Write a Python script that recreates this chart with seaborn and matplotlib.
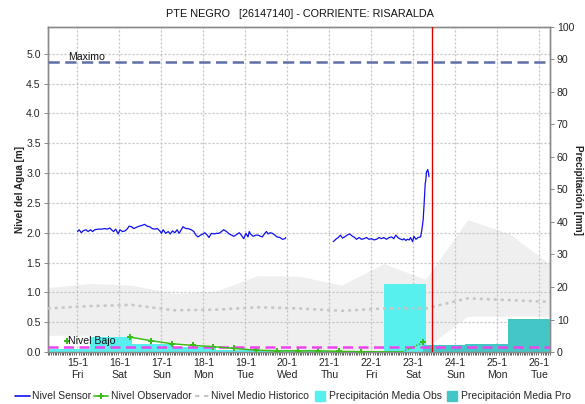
import matplotlib
matplotlib.use("Agg")
import matplotlib.pyplot as plt
from matplotlib.lines import Line2D
from matplotlib.ticker import MultipleLocator, FormatStrFormatter
import seaborn as sns
import pandas as pd

sns.set_theme(style="white")
plt.rcParams["font.family"] = ["Liberation Sans", "DejaVu Sans"]

# ---------------- data (x in days counted from 15-1 00:00) ----------------
tick_days = list(range(12))
tick_labels = ["15-1\nFri", "16-1\nSat", "17-1\nSun", "18-1\nMon", "19-1\nTue", "20-1\nWed",
               "21-1\nThu", "22-1\nFri", "23-1\nSat", "24-1\nSun", "25-1\nMon", "26-1\nTue"]
x_range = (-0.71, 11.25)
now_day = 8.43

nivel_maximo = 4.87
nivel_bajo = 0.08

# water level sensor, two stretches separated by a gap in transmission
sensor_days_a = [0.00, 0.04, 0.09, 0.13, 0.20, 0.25, 0.31, 0.36, 0.41, 0.49, 0.57, 0.65, 0.71, 0.77,
                 0.81, 0.86, 0.91, 0.97, 1.01, 1.07, 1.13, 1.18, 1.23, 1.29, 1.34, 1.40, 1.47, 1.52,
                 1.60, 1.66, 1.72, 1.78, 1.84, 1.90, 1.96, 2.00, 2.04, 2.10, 2.16, 2.21, 2.26, 2.32,
                 2.37, 2.42, 2.48, 2.51, 2.58, 2.63, 2.71, 2.77, 2.82, 2.87, 2.93, 2.99, 3.03, 3.09,
                 3.13, 3.19, 3.25, 3.31, 3.37, 3.43, 3.48, 3.55, 3.61, 3.67, 3.72, 3.79, 3.85, 3.90,
                 3.96, 4.01, 4.06, 4.09, 4.12, 4.18, 4.25, 4.30, 4.36, 4.40, 4.46, 4.50, 4.54, 4.59,
                 4.64, 4.70, 4.75, 4.82, 4.88, 4.94, 4.96]
sensor_vals_a = [2.02, 2.05, 2.00, 2.03, 2.05, 2.02, 2.05, 2.02, 2.05, 2.06, 2.06, 2.07, 2.06, 2.08,
                 2.05, 2.02, 2.06, 1.98, 2.05, 2.02, 2.03, 2.06, 2.11, 2.10, 2.07, 2.09, 2.11, 2.12,
                 2.14, 2.11, 2.10, 2.07, 2.06, 2.07, 2.03, 1.99, 2.05, 1.99, 2.02, 1.98, 2.03, 2.00,
                 2.05, 1.99, 2.06, 2.10, 2.07, 2.07, 2.05, 2.02, 1.96, 1.93, 1.96, 1.98, 2.00, 1.96,
                 1.92, 1.99, 1.98, 1.99, 1.99, 2.02, 2.05, 2.02, 1.98, 1.96, 1.94, 1.97, 2.00, 1.96,
                 1.90, 1.99, 1.93, 2.02, 1.98, 1.94, 1.96, 1.96, 1.94, 1.93, 1.99, 2.02, 1.98, 2.00,
                 1.99, 1.96, 1.93, 1.92, 1.89, 1.90, 1.92]
sensor_days_b = [6.09, 6.15, 6.21, 6.26, 6.31, 6.36, 6.42, 6.48, 6.55, 6.60, 6.64, 6.71, 6.76, 6.82,
                 6.88, 6.94, 7.00, 7.06, 7.12, 7.18, 7.24, 7.29, 7.36, 7.42, 7.48, 7.53, 7.58, 7.63,
                 7.67, 7.74, 7.77, 7.82, 7.85, 7.90, 7.93, 7.98, 8.01, 8.06, 8.11, 8.17, 8.20, 8.23,
                 8.25, 8.28, 8.29, 8.31, 8.34, 8.36, 8.37]
sensor_vals_b = [1.85, 1.89, 1.92, 1.96, 1.91, 1.93, 1.96, 1.98, 1.94, 1.92, 1.89, 1.92, 1.89, 1.90,
                 1.92, 1.89, 1.90, 1.88, 1.89, 1.92, 1.90, 1.92, 1.89, 1.92, 1.93, 1.90, 1.96, 1.92,
                 1.90, 1.88, 1.90, 1.87, 1.89, 1.88, 1.92, 1.85, 1.94, 1.89, 1.92, 1.93, 2.05, 2.21,
                 2.44, 2.83, 2.86, 3.02, 3.06, 2.99, 2.94]

# staff gauge readings by the observer
obs_days = [-0.26, 1.25, 1.75, 2.24, 2.75, 3.23, 3.73, 4.25, 4.74, 5.24, 5.73, 6.23, 6.74, 7.73, 8.23]
obs_vals = [0.19, 0.25, 0.19, 0.14, 0.11, 0.09, 0.06, 0.03, 0.02, 0.02, 0.02, 0.01, 0.005, 0.0, 0.16]
obs_marked = [True] * 13 + [False, True]

# historical envelope and mean level
hist_days = [-0.71, 0.29, 1.29, 2.29, 3.29, 4.29, 5.29, 6.29, 7.29, 8.29, 9.29, 10.29, 11.29]
hist_upper = [1.08, 1.15, 1.12, 0.98, 1.02, 1.28, 1.27, 1.12, 1.48, 1.22, 2.22, 1.98, 1.45]
hist_lower = [0.28, 0.28, 0.25, 0.17, 0.10, 0.03, 0.02, 0.02, 0.02, 0.07, 0.60, 0.60, 0.60]
hist_mean = [0.73, 0.77, 0.79, 0.70, 0.71, 0.75, 0.73, 0.69, 0.73, 0.73, 0.90, 0.87, 0.84]

# daily rainfall, observed (07:00-07:00) and forecast
rain_obs_edges = [-0.71, 0.29, 1.29, 2.29, 3.29, 4.29, 5.29, 6.29, 7.29, 8.29]
rain_obs_mm = [0.8, 4.5, 2.4, 1.6, 0.6, 0.3, 0.3, 0.0, 20.8]
rain_pro_edges = [8.23, 9.23, 10.24, 11.30]
rain_pro_mm = [2.3, 2.6, 10.1]

# ---------------- styling ----------------
c_sensor = "#1010F0"
c_obs = "#3DBB1A"
c_mean = "#C6C6C6"
c_band = "#EFEFEF"
c_rain_obs = "#58EFEF"
c_rain_pro = "#45C6C6"
c_max = "#5F6FA8"
c_bajo = "#EE44EE"
c_now = "#DD0000"
c_spine = "#8A8A8A"
fs = 7.6

fig = plt.figure(figsize=(5.85, 4.04), dpi=100)
pos = [0.0815, 0.1287, 0.8586, 0.8045]

ax = fig.add_axes(pos)              # level axis: envelope + grid
ax_rain = ax.twinx()                # rainfall bars
ax_top = fig.add_axes(pos, sharex=ax, sharey=ax)   # level lines above the bars
ax.set_zorder(0)
ax_rain.set_zorder(1)
ax_top.set_zorder(2)
ax_rain.patch.set_visible(False)
ax_top.patch.set_visible(False)
ax_top.axis("off")

# historical envelope
ax.fill_between(hist_days, hist_lower, hist_upper, color=c_band, lw=0, zorder=0.2)
ax.set_axisbelow(True)
ax.grid(True, color="#C2C2C2", linestyle=(0, (1.6, 1.6)), lw=0.9)

# rainfall bars
for lo, hi, v in zip(rain_obs_edges[:-1], rain_obs_edges[1:], rain_obs_mm):
    ax_rain.bar(lo, v, width=hi - lo, align="edge", color=c_rain_obs, lw=0)
for lo, hi, v in zip(rain_pro_edges[:-1], rain_pro_edges[1:], rain_pro_mm):
    ax_rain.bar(lo, v, width=hi - lo, align="edge", color=c_rain_pro, lw=0)

# historical mean
sns.lineplot(x=hist_days, y=hist_mean, ax=ax_top, color=c_mean, lw=1.8,
             linestyle=(0, (1.2, 1.6)), legend=False)

# reference levels
ax_top.axhline(nivel_maximo, color=c_max, lw=1.8, linestyle=(0, (4.5, 2.2)))
ax_top.axhline(nivel_bajo, color=c_bajo, lw=1.8, linestyle=(0, (4, 2.2)))
ax_top.text(0.04, nivel_maximo, "Maximo", transform=ax_top.get_yaxis_transform(),
            fontsize=fs, va="bottom", ha="left", color="#111111")
ax_top.text(0.041, nivel_bajo + 0.02, "Nivel Bajo", transform=ax_top.get_yaxis_transform(),
            fontsize=fs, va="bottom", ha="left", color="#111111")

# sensor level
sensor = pd.DataFrame({
    "day": sensor_days_a + sensor_days_b,
    "nivel": sensor_vals_a + sensor_vals_b,
    "tramo": [0] * len(sensor_days_a) + [1] * len(sensor_days_b),
})
sns.lineplot(data=sensor, x="day", y="nivel", units="tramo", estimator=None,
             color=c_sensor, lw=0.9, ax=ax_top, legend=False)

# observer readings
sns.lineplot(x=obs_days[1:-1], y=obs_vals[1:-1], ax=ax_top, color=c_obs, lw=1.1, legend=False)
sns.lineplot(x=obs_days[-2:], y=obs_vals[-2:], ax=ax_top, color=c_obs, lw=1.1,
             linestyle=(0, (1, 1)), legend=False)
mk_days = [d for d, m in zip(obs_days, obs_marked) if m]
mk_vals = [v for v, m in zip(obs_vals, obs_marked) if m]
sns.scatterplot(x=mk_days, y=mk_vals, ax=ax_top, marker="P", s=22, color=c_obs,
                edgecolor=c_obs, linewidth=0, legend=False)

# current time
ax_top.axvline(now_day, color=c_now, lw=1.0)

# ---------------- axes ----------------
ax.set_xlim(*x_range)
ax.set_ylim(0, 5.45)
ax_rain.set_ylim(0, 100)
ax.set_xticks(tick_days)
ax.set_xticklabels(tick_labels, fontsize=fs, linespacing=1.35)
ax.xaxis.set_minor_locator(MultipleLocator(1 / 24))
ax.tick_params(axis="x", which="major", length=0, pad=4)
ax.tick_params(axis="x", which="minor", length=2.2, width=0.6, color="#444444", bottom=True)
ax.yaxis.set_major_locator(MultipleLocator(0.5))
ax.yaxis.set_major_formatter(FormatStrFormatter("%.1f"))
ax.tick_params(axis="y", length=3, width=0.7, color=c_spine, labelsize=fs, pad=2, left=True)
ax_rain.yaxis.set_major_locator(MultipleLocator(10))
ax_rain.tick_params(axis="y", length=3, width=0.7, color=c_spine, labelsize=fs, pad=2, right=True)
ax_rain.grid(False)
for a in (ax, ax_rain):
    for s in a.spines.values():
        s.set_color(c_spine)
        s.set_linewidth(1.0)

ax.set_xlabel("")
ax.set_ylabel("Nivel del Agua [m]", fontsize=fs - 0.4, fontweight="bold", labelpad=1, color="#222222")
ax_rain.set_ylabel("Precipitación [mm]", fontsize=fs - 0.4, fontweight="bold", rotation=270,
                   labelpad=6, color="#222222")

fig.text(0.513, 0.965, "PTE NEGRO   [26147140] - CORRIENTE: RISARALDA",
         ha="center", va="center", fontsize=fs + 0.2, color="#111111")

# ---------------- legend ----------------
handles = [
    Line2D([], [], color=c_sensor, lw=1.2),
    Line2D([], [], color=c_obs, lw=1.2, marker="P", markersize=5, markeredgewidth=0),
    Line2D([], [], color=c_mean, lw=1.6, linestyle=(0, (2, 2))),
    Line2D([], [], color=c_rain_obs, marker="s", linestyle="", markersize=7),
    Line2D([], [], color=c_rain_pro, marker="s", linestyle="", markersize=7),
]
labels = ["Nivel Sensor", "Nivel Observador", "Nivel Medio Historico",
          "Precipitación Media Obs", "Precipitación Media Pro"]
fig.legend(handles, labels, loc="lower left", bbox_to_anchor=(0.022, 0.0), ncol=5,
           frameon=False, fontsize=fs - 0.1, handlelength=1.35, handletextpad=0.2,
           columnspacing=0.35, borderaxespad=0.1, borderpad=0.15)

fig.savefig("out.png", dpi=100)
